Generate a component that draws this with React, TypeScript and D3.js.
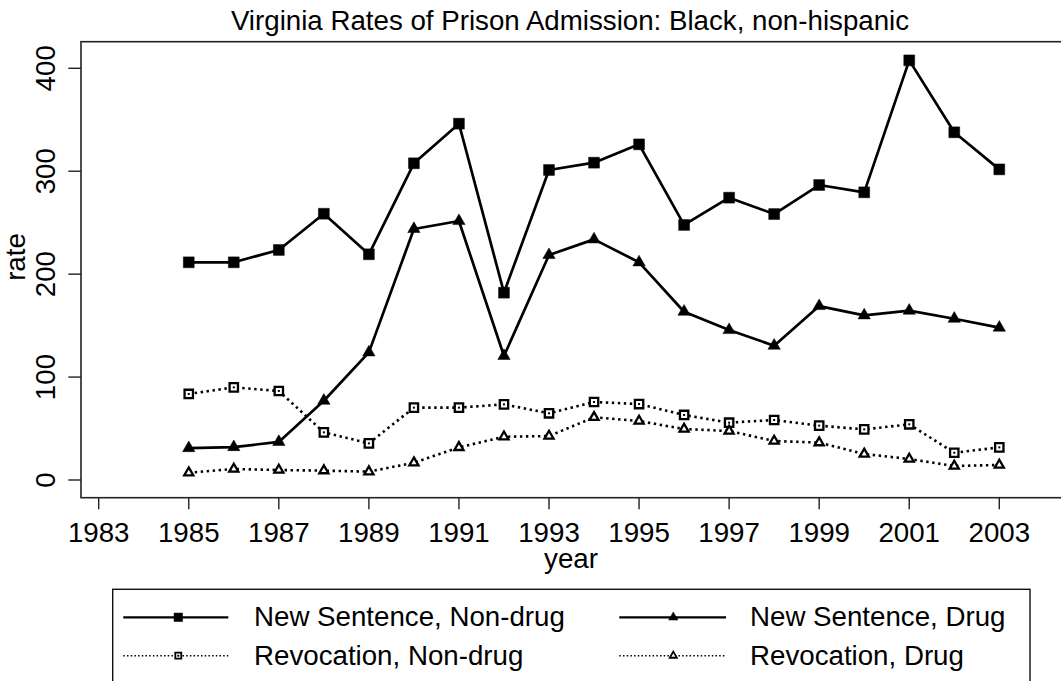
import React from 'react';
import * as d3 from 'd3';

const years = [1985, 1986, 1987, 1988, 1989, 1990, 1991, 1992, 1993, 1994, 1995, 1996, 1997, 1998, 1999, 2000, 2001, 2002, 2003];
const newNonDrug = [211.5, 211.5, 223.5, 258.7, 219.3, 307.7, 346.2, 182, 301.2, 308.3, 326.1, 247.8, 274.3, 258.4, 286.6, 279.5, 407.7, 337.8, 301.8];
const newDrug = [31, 32, 37, 77, 124, 243.9, 251.6, 120.5, 218.6, 233.8, 211.5, 163.5, 145.7, 130.5, 169, 160, 164.5, 156.7, 148];
const revNonDrug = [83.6, 90, 86.5, 46.3, 35.6, 70.3, 70.3, 73.5, 64.8, 75.8, 73.8, 63.2, 55.7, 58.3, 52.8, 49.2, 54.1, 26.5, 31.7];
const revDrug = [7.1, 10.7, 9.7, 9.1, 8.1, 16.8, 31.7, 42, 42.7, 60.9, 57.3, 49.5, 47.6, 37.9, 36.3, 25.3, 20.4, 13.6, 14.6];

const xTicks = [1983, 1985, 1987, 1989, 1991, 1993, 1995, 1997, 1999, 2001, 2003];
const yTicks = [0, 100, 200, 300, 400];

const W = 1061;
const H = 681;
const FONT = '"Liberation Sans", Arial, sans-serif';
const FS = 27.7;

const plot = { left: 81, top: 41.7, bottom: 497.7, right: 1075 };

const x = d3.scaleLinear().domain([1983, 2003]).range([98.7, 999.3]);
const y = d3.scaleLinear().domain([0, 400]).range([480, 68.3]);

type Series = {
  name: string;
  values: number[];
  shape: 'square' | 'triangle';
  filled: boolean;
  dotted: boolean;
};

const series: Series[] = [
  { name: 'New Sentence, Non-drug', values: newNonDrug, shape: 'square', filled: true, dotted: false },
  { name: 'New Sentence, Drug', values: newDrug, shape: 'triangle', filled: true, dotted: false },
  { name: 'Revocation, Non-drug', values: revNonDrug, shape: 'square', filled: false, dotted: true },
  { name: 'Revocation, Drug', values: revDrug, shape: 'triangle', filled: false, dotted: true },
];

// marker path, sizes differ between plot and legend
const markerPath = (s: Series, small: boolean) => {
  const type = s.shape === 'square' ? d3.symbolSquare : d3.symbolTriangle;
  let size;
  if (s.shape === 'square') size = s.filled ? (small ? 72 : 118) : (small ? 36 : 70);
  else size = s.filled ? (small ? 38 : 66) : (small ? 22 : 36);
  return d3.symbol(type, size)() as string;
};

const Marker = ({ s, cx, cy, small }: { s: Series; cx: number; cy: number; small: boolean }) => (
  <g transform={`translate(${cx},${cy})`}>
    <path
      d={markerPath(s, small)}
      fill={s.filled ? '#000' : '#fff'}
      stroke="#000"
      strokeWidth={s.filled ? 0.5 : small ? 1.8 : 2.3}
      strokeLinejoin="miter"
    />
    {!s.filled && s.shape === 'square' && <rect x={-1} y={-1} width={2} height={2} fill="#000" />}
  </g>
);

const line = d3.line<number>().x((_, i) => x(years[i])).y((v) => y(v));

// legend layout
const legendCols = [
  { lineX0: 123.3, lineX1: 228.3, markX: 178.3, textX: 254 },
  { lineX0: 619.3, lineX1: 726, markX: 673.3, textX: 750 },
];
const legendRows = [{ lineY: 617.3, textY: 625.7 }, { lineY: 655.7, textY: 665 }];

export default function App() {
  return (
    <svg width={W} height={H} style={{ position: 'absolute', left: 0, top: 0, background: '#fff' }} fontFamily={FONT}>
      <rect x={0} y={0} width={W} height={H} fill="#fff" />
      <text x={570} y={29.5} fontSize={FS} textAnchor="middle">
        Virginia Rates of Prison Admission: Black, non-hispanic
      </text>

      {/* plot frame */}
      <rect
        x={plot.left}
        y={plot.top}
        width={plot.right - plot.left}
        height={plot.bottom - plot.top}
        fill="none"
        stroke="#222"
        strokeWidth={1.6}
      />

      {/* y axis */}
      {yTicks.map((t) => (
        <g key={t}>
          <line x1={68.3} x2={plot.left} y1={y(t)} y2={y(t)} stroke="#222" strokeWidth={1.4} />
          <text transform={`translate(55,${y(t)}) rotate(-90)`} fontSize={FS} textAnchor="middle">
            {t}
          </text>
        </g>
      ))}
      <text transform="translate(25,257) rotate(-90)" fontSize={FS} textAnchor="middle">
        rate
      </text>

      {/* x axis */}
      {xTicks.map((t) => (
        <g key={t}>
          <line x1={x(t)} x2={x(t)} y1={plot.bottom} y2={509.3} stroke="#222" strokeWidth={1.4} />
          <text x={x(t)} y={541.7} fontSize={FS} textAnchor="middle">
            {t}
          </text>
        </g>
      ))}
      <text x={571} y={568} fontSize={FS} textAnchor="middle">
        year
      </text>

      {/* series */}
      {series.map((s) => (
        <g key={s.name}>
          <path
            d={line(s.values) as string}
            fill="none"
            stroke="#000"
            strokeWidth={s.dotted ? 2.6 : 2.7}
            strokeDasharray={s.dotted ? '2.4,3.6' : undefined}
            strokeLinejoin="round"
          />
          {s.values.map((v, i) => (
            <Marker key={i} s={s} cx={x(years[i])} cy={y(v)} small={false} />
          ))}
        </g>
      ))}

      {/* legend */}
      <rect x={112.7} y={589.3} width={1030 - 112.7} height={96} fill="#fff" stroke="#111" strokeWidth={1.4} />
      {series.map((s, i) => {
        const col = legendCols[i % 2];
        const row = legendRows[Math.floor(i / 2)];
        return (
          <g key={s.name}>
            <line
              x1={col.lineX0}
              x2={col.lineX1}
              y1={row.lineY}
              y2={row.lineY}
              stroke="#000"
              strokeWidth={s.dotted ? 1.5 : 2.2}
              strokeDasharray={s.dotted ? '1.5,2.2' : undefined}
            />
            <Marker s={s} cx={col.markX} cy={row.lineY} small={true} />
            <text x={col.textX} y={row.textY} fontSize={FS}>
              {s.name}
            </text>
          </g>
        );
      })}
    </svg>
  );
}
